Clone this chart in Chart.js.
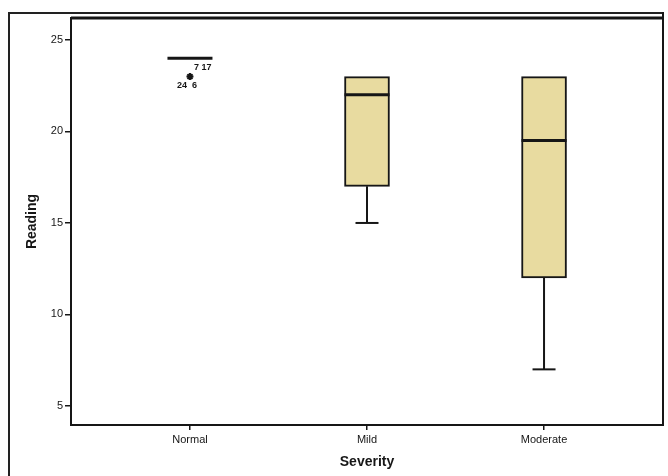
<!DOCTYPE html>
<html>
<head>
<meta charset="utf-8">
<script src="https://cdn.jsdelivr.net/npm/chart.js@4.4.1/dist/chart.umd.min.js"></script>
<style>
    html, body { margin: 0; padding: 0; background: #fff; }
    #wrap { position: relative; width: 668px; height: 476px; overflow: hidden; }
    #frame { position: absolute; left: 8px; top: 12px; width: 654px; height: 480px; border-left: 2px solid #222; border-top: 2px solid #222; }
    canvas { position: absolute; left: 0; top: 0; }
</style>
</head>
<body>
<div id="wrap">
    <div id="frame"></div>
    <canvas id="boxChart" width="668" height="476"></canvas>
</div>
<script>
// Data
const categories = ['Normal', 'Mild', 'Moderate'];
const lowerWhisker = [24, 15, 7];
const q1Values = [24, 17, 12];
const medianValues = [24, 22, 19.5];
const q3Values = [24, 23, 23];
const upperWhisker = [24, 23, 23];
const outlierCategory = [1];
const outlierValues = [23];
const outlierLabels = [['7 17', '24  6']];
const yTicks = [5, 10, 15, 20, 25];

const boxFill = '#e8dba0';
const ink = '#161616';

// box bodies as floating bars
const boxData = categories.map((c, i) => ({ x: i + 1, y: [q1Values[i], q3Values[i]] }));
const medianData = categories.map((c, i) => ({ x: i + 1, y: medianValues[i] }));

// whisker stems, one little line per category and side
const whiskerSets = [];
const capData = [];
categories.forEach((c, i) => {
    if (lowerWhisker[i] < q1Values[i]) {
        whiskerSets.push([{ x: i + 1, y: q1Values[i] }, { x: i + 1, y: lowerWhisker[i] }]);
        capData.push({ x: i + 1, y: lowerWhisker[i] });
    }
    if (upperWhisker[i] > q3Values[i]) {
        whiskerSets.push([{ x: i + 1, y: q3Values[i] }, { x: i + 1, y: upperWhisker[i] }]);
        capData.push({ x: i + 1, y: upperWhisker[i] });
    }
});
const outlierData = outlierCategory.map((c, i) => ({ x: c, y: outlierValues[i] }));

const datasets = [
    {
        type: 'bar',
        data: boxData,
        backgroundColor: boxFill,
        borderColor: ink,
        borderWidth: 2,
        borderSkipped: false,
        barThickness: 45,
        order: 3
    },
    ...whiskerSets.map(pts => ({
        type: 'line',
        data: pts,
        borderColor: ink,
        borderWidth: 2,
        pointRadius: 0,
        order: 4
    })),
    {
        type: 'scatter',
        data: capData,
        pointStyle: 'line',
        pointRadius: 11.5,
        borderColor: ink,
        borderWidth: 2,
        order: 2
    },
    {
        type: 'scatter',
        data: medianData,
        pointStyle: 'line',
        pointRadius: 22.5,
        borderColor: ink,
        borderWidth: 3,
        order: 1
    },
    {
        type: 'scatter',
        data: outlierData,
        pointStyle: 'star',
        pointRadius: 3.5,
        borderColor: ink,
        borderWidth: 2,
        order: 1
    }
];

// plot frame and outlier case labels
const framePlugin = {
    id: 'framePlugin',
    afterDraw(chart) {
        const { ctx, chartArea: a, scales } = chart;
        ctx.save();
        ctx.strokeStyle = ink;
        ctx.lineWidth = 2;
        ctx.strokeRect(a.left, a.top, a.right - a.left, a.bottom - a.top);
        // right edge runs on up to the outer frame
        ctx.beginPath();
        ctx.moveTo(a.right, a.top);
        ctx.lineTo(a.right, 12);
        ctx.stroke();
        ctx.lineWidth = 3;
        ctx.beginPath();
        ctx.moveTo(a.left, a.top);
        ctx.lineTo(a.right, a.top);
        ctx.stroke();

        ctx.fillStyle = ink;
        ctx.font = 'bold 9px "Liberation Sans", Arial, sans-serif';
        ctx.textBaseline = 'middle';
        outlierData.forEach((p, i) => {
            const px = scales.x.getPixelForValue(p.x);
            const py = scales.y.getPixelForValue(p.y);
            const labels = outlierLabels[i];
            ctx.textAlign = 'left';
            ctx.fillText(labels[0], px + 4, py - 9);
            ctx.textAlign = 'center';
            ctx.fillText(labels[1], px - 3, py + 9);
        });
        ctx.restore();
    }
};

// keep the plot area where the reference has it
function noEdgePadding(scale) {
    scale.paddingTop = 0;
    scale.paddingBottom = 0;
    scale.paddingLeft = 0;
    scale.paddingRight = 0;
}

const ctx = document.getElementById('boxChart').getContext('2d');
new Chart(ctx, {
    type: 'bar',
    data: { datasets: datasets },
    options: {
        responsive: false,
        animation: false,
        layout: { autoPadding: false, padding: { left: 0, top: 18, right: 5, bottom: 0 } },
        plugins: {
            legend: { display: false },
            tooltip: { enabled: false }
        },
        scales: {
            x: {
                type: 'linear',
                offset: false,
                min: 0.328,
                max: 3.672,
                afterBuildTicks: scale => { scale.ticks = categories.map((c, i) => ({ value: i + 1 })); },
                afterFit: scale => { scale.height = 51; noEdgePadding(scale); },
                border: { display: false },
                grid: { offset: false, drawOnChartArea: false, drawTicks: true, tickLength: 5, color: ink, lineWidth: 1.5 },
                ticks: {
                    color: ink,
                    padding: 3,
                    autoSkip: false,
                    maxRotation: 0,
                    font: { family: '"Liberation Sans", Arial, sans-serif', size: 11 },
                    callback: v => categories[Math.round(v) - 1]
                },
                title: {
                    display: true,
                    text: 'Severity',
                    color: ink,
                    padding: { top: 0, bottom: 5.6 },
                    font: { family: '"Liberation Sans", Arial, sans-serif', size: 14, weight: 'bold' }
                }
            },
            y: {
                min: 3.96,
                max: 26.2,
                afterBuildTicks: scale => { scale.ticks = yTicks.map(v => ({ value: v })); },
                afterFit: scale => { scale.width = 71; noEdgePadding(scale); },
                border: { display: false },
                grid: { drawOnChartArea: false, drawTicks: true, tickLength: 6, color: ink, lineWidth: 1.5 },
                ticks: {
                    color: ink,
                    padding: 2,
                    font: { family: '"Liberation Sans", Arial, sans-serif', size: 11 }
                },
                title: {
                    display: true,
                    text: 'Reading',
                    color: ink,
                    padding: { top: 23.6, bottom: 0 },
                    font: { family: '"Liberation Sans", Arial, sans-serif', size: 14, weight: 'bold' }
                }
            }
        }
    },
    plugins: [framePlugin]
});
</script>
</body>
</html>
